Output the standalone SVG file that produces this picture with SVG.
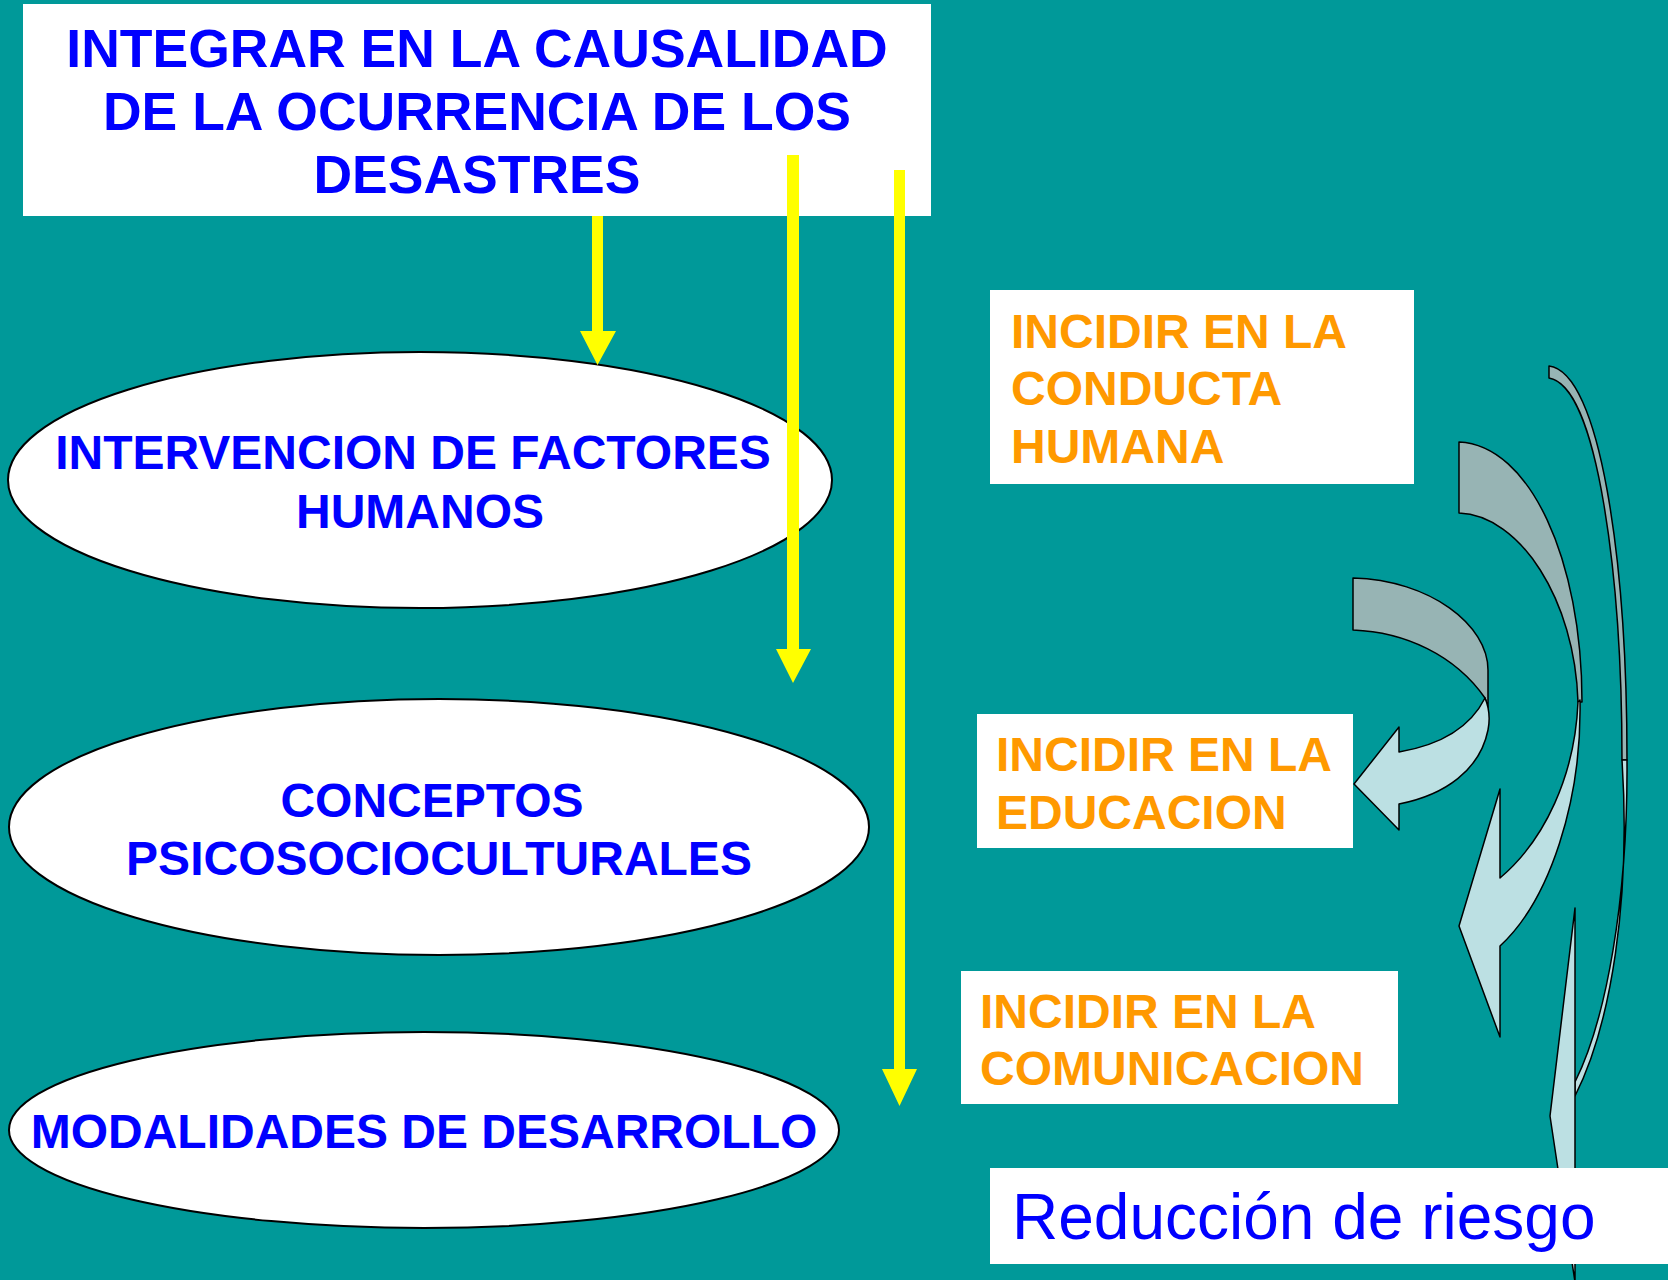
<svg xmlns="http://www.w3.org/2000/svg" width="1668" height="1280" viewBox="0 0 1668 1280">
<defs>
<style>
.box{fill:#FFFFFF;}
.ell{fill:#FFFFFF;stroke:#000000;stroke-width:2;}
.bt{font-family:"Liberation Sans",Arial,sans-serif;font-weight:bold;fill:#0000FF;}
.ot{font-family:"Liberation Sans",Arial,sans-serif;font-weight:bold;fill:#FF9900;font-size:48px;}
.yl{fill:#FFFF00;}
.back{fill:#97B4B4;stroke:#000000;stroke-width:1.5;stroke-linejoin:round;}
.front{fill:#BCE0E3;stroke:#000000;stroke-width:1.5;stroke-linejoin:round;}
</style>
</defs>
<rect x="0" y="0" width="1668" height="1280" fill="#009999"/>

<g id="node-top">
<rect class="box" x="23" y="4" width="908" height="212"/>
<text class="bt" font-size="53.5" text-anchor="middle"><tspan x="477" y="67">INTEGRAR EN LA CAUSALIDAD</tspan><tspan x="477" y="130">DE LA OCURRENCIA DE LOS</tspan><tspan x="477" y="193">DESASTRES</tspan></text>
</g>

<g id="node-factores">
<ellipse class="ell" cx="420" cy="480" rx="412" ry="128"/>
<text class="bt" font-size="48" text-anchor="middle"><tspan x="413" y="469">INTERVENCION DE FACTORES</tspan><tspan x="420" y="528">HUMANOS</tspan></text>
</g>

<g id="node-conceptos">
<ellipse class="ell" cx="439" cy="827" rx="430" ry="128"/>
<text class="bt" font-size="48" text-anchor="middle"><tspan x="432" y="817">CONCEPTOS</tspan><tspan x="439" y="875">PSICOSOCIOCULTURALES</tspan></text>
</g>

<g id="node-modalidades">
<ellipse class="ell" cx="424" cy="1130" rx="415" ry="98"/>
<text class="bt" font-size="48" text-anchor="middle" x="424" y="1148">MODALIDADES DE DESARROLLO</text>
</g>

<g id="connectors">
<polygon class="yl" points="592,216 603,216 603,331 616,331 597.5,365 580,331 592,331"/>
<polygon class="yl" points="787,155 799,155 799,649 811,649 793,683 776,649 787,649"/>
<polygon class="yl" points="894,170 905,170 905,1069 917,1069 899.5,1106 882,1069 894,1069"/>
</g>

<g id="curved-arrows">
<!-- tall thin arrow -->
<path class="back" d="M1549,366 C1600,372 1627,560 1627,760 L1622,760 C1622,580 1598,386 1549,378 Z"/>
<path class="front" d="M1627,760 C1628,900 1606,1020 1575,1082 L1575,1096 C1611,1025 1631,900 1622,760 Z"/>
<path class="front" d="M1575,908 L1575,1282 L1550,1116 Z"/>
<!-- middle arrow -->
<path class="back" d="M1459,442 C1530,445 1582,560 1582,702 L1578,702 C1575,600 1520,515 1459,513 Z"/>
<path class="front" d="M1580,700 C1582,800 1550,900 1500,946 L1500,1037 L1459,926 L1500,789 L1500,878 C1545,840 1575,775 1578,702 Z"/>
<!-- small arrow -->
<path class="back" d="M1353,578 C1430,580 1488,625 1488,670 L1488,718 C1488,708 1487,702 1485,698 C1455,655 1405,632 1353,630 Z"/>
<path class="front" d="M1485,698 C1490,710 1490,720 1488,730 C1480,770 1445,795 1399,804 L1399,830 L1354,784 L1399,727 L1399,752 C1440,745 1470,728 1485,698 Z"/>
</g>

<g id="node-conducta">
<rect class="box" x="990" y="290" width="424" height="194"/>
<text class="ot"><tspan x="1011" y="348">INCIDIR EN LA</tspan><tspan x="1011" y="405">CONDUCTA</tspan><tspan x="1011" y="463">HUMANA</tspan></text>
</g>

<g id="node-educacion">
<rect class="box" x="977" y="714" width="376" height="134"/>
<text class="ot"><tspan x="996" y="771">INCIDIR EN LA</tspan><tspan x="996" y="829">EDUCACION</tspan></text>
</g>

<g id="node-comunicacion">
<rect class="box" x="961" y="971" width="437" height="133"/>
<text class="ot"><tspan x="980" y="1028">INCIDIR EN LA</tspan><tspan x="980" y="1085">COMUNICACION</tspan></text>
</g>

<g id="node-reduccion">
<rect class="box" x="990" y="1168" width="678" height="96"/>
<text font-family="'Liberation Sans',Arial,sans-serif" font-size="64" fill="#0000FF" x="1012" y="1239">Reducción de riesgo</text>
</g>
</svg>
